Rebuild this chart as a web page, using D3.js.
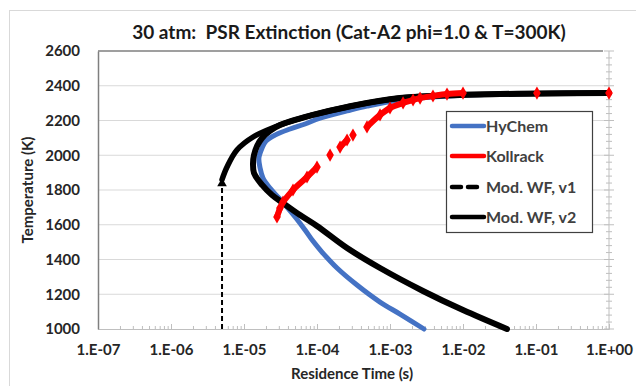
<!DOCTYPE html>
<html>
<head>
<meta charset="utf-8">
<script src="https://d3js.org/d3.v7.min.js"></script>
<style>
  body { margin: 0; background: #fff; }
  text { font-family: Lato, "Open Sans", sans-serif; }
</style>
</head>
<body>
<svg width="636" height="386"></svg>
<script>
// ---- data (time in s, temperature in K) ----
var hychemTime = [1, 0.032, 6.64e-3, 1.37e-3, 4.84e-4, 2.58e-4, 1.1e-4, 6.86e-5, 4.27e-5, 2.66e-5, 2.0e-5, 1.77e-5,
                  1.6e-5, 1.66e-5, 1.82e-5, 2.27e-5, 3.01e-5, 3.88e-5, 5.15e-5, 6.86e-5, 8.8e-5, 1.17e-4,
                  1.88e-4, 3.53e-4, 7.3e-4, 1.37e-3, 2.92e-3];
var hychemTemp = [2358, 2352, 2341, 2318, 2283, 2255, 2214, 2180, 2151, 2116, 2082, 2042,
                  1984, 1927, 1869, 1811, 1754, 1702, 1639, 1570, 1506, 1443,
                  1351, 1253, 1155, 1086, 1000];

var kollrackRuns = [
  [[2.83e-5, 1645], [3.11e-5, 1696]],
  [[3.42e-5, 1731], [4.69e-5, 1800], [7.3e-5, 1875], [1.0e-4, 1932]],
  [[1.51e-4, 2001]],
  [[2.07e-4, 2047], [2.58e-4, 2088]],
  [[3.11e-4, 2116]],
  [[4.84e-4, 2163], [7.3e-4, 2232], [1.0e-3, 2272], [1.51e-3, 2301], [2.07e-3, 2318], [2.58e-3, 2329],
   [3.88e-3, 2341], [6.04e-3, 2352], [1.0e-2, 2358]],
  [[0.103, 2358]],
  [[1.0, 2358]]
];

var wf1Time = [5.0e-6, 5.0e-6, 5.85e-6, 8.0e-6, 1.33e-5, 3.11e-5, 8.8e-5, 2.58e-4, 1.37e-3, 6.64e-3, 3.2e-2, 1];
var wf1Temp = [1000, 1860, 1932, 2030, 2105, 2174, 2232, 2278, 2329, 2347, 2352, 2358];

var wf2Time = [1, 3.2e-2, 1.37e-3, 2.58e-4, 8.8e-5, 3.11e-5, 2.27e-5, 1.77e-5, 1.51e-5, 1.37e-5, 1.33e-5,
               1.37e-5, 1.77e-5, 2.42e-5, 3.42e-5, 5.85e-5, 1.0e-4, 2.58e-4, 7.3e-4, 2.83e-3, 1.0e-2, 4.0e-2];
var wf2Temp = [2358, 2352, 2329, 2278, 2232, 2174, 2140, 2099, 2053, 2001, 1955,
               1898, 1829, 1771, 1725, 1656, 1593, 1466, 1351, 1219, 1109, 1000];

var xTickExp = [-7, -6, -5, -4, -3, -2, -1, 0];
var yTicks = [1000, 1200, 1400, 1600, 1800, 2000, 2200, 2400, 2600];

var legendNames = ["HyChem", "Kollrack", "Mod. WF, v1", "Mod. WF, v2"];
var legendColors = ["#4472c4", "#ff0000", "#000000", "#000000"];

// ---- layout ----
var svg = d3.select("svg");
var L = 98, R = 609, T = 51, B = 329;

var x = d3.scaleLog().domain([1e-7, 1]).range([L, R]);
var y = d3.scaleLinear().domain([1000, 2600]).range([B, T]);

// chart border
svg.append("rect").attr("x", 9.5).attr("y", 10.5).attr("width", 660).attr("height", 420)
  .attr("fill", "none").attr("stroke", "#d9d9d9");

// horizontal gridlines
svg.append("g").selectAll("line").data(yTicks.slice(1, -1)).enter().append("line")
  .attr("x1", L).attr("x2", R).attr("y1", d => y(d)).attr("y2", d => y(d))
  .attr("stroke", "#d9d9d9").attr("stroke-width", 1);

// bottom axis with log minor ticks (inside)
var minors = [];
xTickExp.slice(0, -1).forEach(function (e) {
  for (var k = 2; k <= 9; k++) minors.push(k * Math.pow(10, e));
});
var fmt = function (d) {
  var e = Math.round(Math.log10(d));
  return "1.E" + (e < 0 ? "-" : "+") + String(Math.abs(e)).padStart(2, "0");
};
var gx = svg.append("g").attr("transform", "translate(0," + B + ")")
  .call(d3.axisBottom(x).tickValues(xTickExp.map(e => Math.pow(10, e))).tickSize(-5).tickFormat(fmt).tickPadding(15));
gx.select(".domain").attr("stroke", "#bfbfbf");
gx.selectAll(".tick line").attr("stroke", "#bfbfbf");
gx.selectAll("text").attr("font-size", 15).attr("font-weight", 700).attr("fill", "#262626");
svg.append("g").attr("transform", "translate(0," + B + ")")
  .call(d3.axisBottom(x).tickValues(minors).tickSize(-3).tickFormat(""))
  .call(g => g.select(".domain").remove())
  .selectAll("line").attr("stroke", "#bfbfbf");

// right axis with crossing ticks
var yMinors = d3.range(1000, 2601, 40);
svg.append("line").attr("x1", R).attr("x2", R).attr("y1", T).attr("y2", B).attr("stroke", "#bfbfbf");
svg.append("g").selectAll("line").data(yMinors).enter().append("line")
  .attr("x1", d => R - (d % 200 === 0 ? 5 : 3)).attr("x2", d => R + (d % 200 === 0 ? 5 : 3))
  .attr("y1", d => y(d)).attr("y2", d => y(d)).attr("stroke", "#bfbfbf");

// left axis + top border
var gy = svg.append("g").attr("transform", "translate(" + L + ",0)")
  .call(d3.axisLeft(y).tickValues(yTicks).tickSize(0).tickPadding(18).tickFormat(d3.format("d")));
gy.select(".domain").attr("stroke", "#7f7f7f").attr("stroke-width", 1.5);
gy.selectAll("text").attr("font-size", 15).attr("font-weight", 700).attr("fill", "#262626");
svg.append("line").attr("x1", L).attr("x2", R - 6).attr("y1", T).attr("y2", T)
  .attr("stroke", "#7f7f7f").attr("stroke-width", 1.5);

// ---- series ----
var line = d3.line().x(d => x(d[0])).y(d => y(d[1])).curve(d3.curveCatmullRom);

var hychem = hychemTime.map((t, i) => [t, hychemTemp[i]]);
svg.append("path").datum(hychem).attr("d", line)
  .attr("fill", "none").attr("stroke", "#4472c4").attr("stroke-width", 5).attr("stroke-linecap", "round");

var wf2 = wf2Time.map((t, i) => [t, wf2Temp[i]]);
svg.append("path").datum(wf2).attr("d", line)
  .attr("fill", "none").attr("stroke", "#000").attr("stroke-width", 6).attr("stroke-linecap", "round");

var wf1 = wf1Time.map((t, i) => [t, wf1Temp[i]]);
// vertical dashed part and the dense-marker curve
svg.append("path").datum(wf1.slice(0, 2)).attr("d", d3.line().x(d => x(d[0])).y(d => y(d[1])))
  .attr("fill", "none").attr("stroke", "#000").attr("stroke-width", 2).attr("stroke-dasharray", "5,3");
svg.append("path").datum(wf1.slice(1)).attr("d", line)
  .attr("fill", "none").attr("stroke", "#000").attr("stroke-width", 5.5).attr("stroke-linecap", "round");
svg.append("path")
  .attr("d", d3.symbol().type(d3.symbolTriangle).size(40)())
  .attr("transform", "translate(" + x(wf1[1][0]) + "," + (y(wf1[1][1]) + 4) + ")")
  .attr("fill", "#000");

// Kollrack: diamond markers, dense runs drawn as thick segments
kollrackRuns.forEach(function (run) {
  if (run.length > 1) {
    svg.append("path").datum(run).attr("d", line)
      .attr("fill", "none").attr("stroke", "#ff0000").attr("stroke-width", 6);
  }
  svg.append("g").selectAll("path").data(run).enter().append("path")
    .attr("d", d3.symbol().type(d3.symbolDiamond).size(50)())
    .attr("transform", d => "translate(" + x(d[0]) + "," + y(d[1]) + ")")
    .attr("fill", "#ff0000");
});

// ---- legend ----
var lg = svg.append("g");
lg.append("rect").attr("x", 446.5).attr("y", 111.5).attr("width", 146).attr("height", 121)
  .attr("fill", "#fff").attr("stroke", "#404040").attr("stroke-width", 1.2);
var rows = [126, 156, 187, 217];
legendNames.forEach(function (name, i) {
  var ly = rows[i];
  var ln = lg.append("line").attr("x1", 452).attr("x2", 484).attr("y1", ly).attr("y2", ly)
    .attr("stroke", legendColors[i]).attr("stroke-width", 4.5).attr("stroke-linecap", "round");
  if (i === 2) ln.attr("stroke-dasharray", "9,7");
  lg.append("text").attr("x", 486).attr("y", ly + 5.5).text(name)
    .attr("font-size", 16).attr("font-weight", 700).attr("fill", "#404040");
});

// ---- titles ----
svg.append("text").attr("x", 349).attr("y", 39).attr("text-anchor", "middle")
  .style("white-space", "pre").attr("font-size", 19).attr("font-weight", 700).attr("fill", "#1a1a1a")
  .text("30 atm:  PSR Extinction (Cat-A2 phi=1.0 & T=300K)");
svg.append("text").attr("x", 352).attr("y", 379).attr("text-anchor", "middle")
  .attr("font-size", 15).attr("font-weight", 700).attr("fill", "#262626")
  .text("Residence Time (s)");
svg.append("text").attr("transform", "translate(33,190) rotate(-90)").attr("text-anchor", "middle")
  .attr("font-size", 15).attr("font-weight", 700).attr("fill", "#262626")
  .text("Temperature (K)");
</script>
</body>
</html>
